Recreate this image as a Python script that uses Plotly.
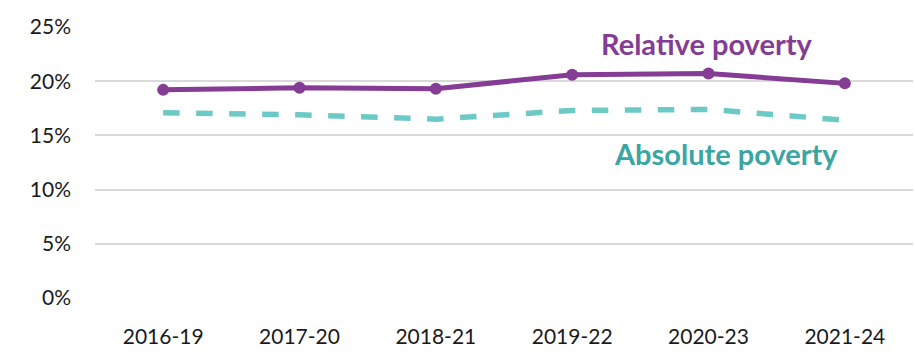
import plotly.graph_objects as go

periods = ["2016-19", "2017-20", "2018-21", "2019-22", "2020-23", "2021-24"]
relative = [19.2, 19.4, 19.3, 20.6, 20.7, 19.8]
absolute = [17.1, 16.9, 16.5, 17.3, 17.4, 16.4]
y_ticks = [0, 5, 10, 15, 20, 25]
y_tick_labels = ["0%", "5%", "10%", "15%", "20%", "25%"]

purple = "#843C94"
teal = "#6CCAC6"
teal_text = "#3AA6A4"

fig = go.Figure()
fig.add_trace(go.Scatter(x=periods, y=absolute, mode="lines",
                         line=dict(color=teal, width=5.5, dash="dash"),
                         name="Absolute poverty", showlegend=False))
fig.add_trace(go.Scatter(x=periods, y=relative, mode="lines+markers",
                         line=dict(color=purple, width=5),
                         marker=dict(color=purple, size=12),
                         name="Relative poverty", showlegend=False))

fig.add_annotation(x=3.99, y=23.5, xref="x", yref="y", text="<b>Relative poverty</b>",
                   showarrow=False, font=dict(size=29, color=purple, family="Lato"))
fig.add_annotation(x=4.13, y=13.3, xref="x", yref="y", text="<b>Absolute poverty</b>",
                   showarrow=False, font=dict(size=29, color=teal_text, family="Lato"))

fig.update_layout(
    width=915, height=354,
    margin=dict(l=95, r=2, t=27, b=56),
    plot_bgcolor="white", paper_bgcolor="white",
    font=dict(family="Lato", size=21, color="#1a1a1a"),
    xaxis=dict(range=[-0.5, 5.5], showgrid=False, showline=False, zeroline=False, ticks="",
               ticklabelstandoff=24),
    yaxis=dict(range=[0, 25], tickvals=y_ticks, ticktext=y_tick_labels,
               showgrid=True, gridcolor="#D9D9D9", gridwidth=2,
               zeroline=False, showline=False, ticks="", ticklabelstandoff=23),
)

fig.write_html("out.html")
